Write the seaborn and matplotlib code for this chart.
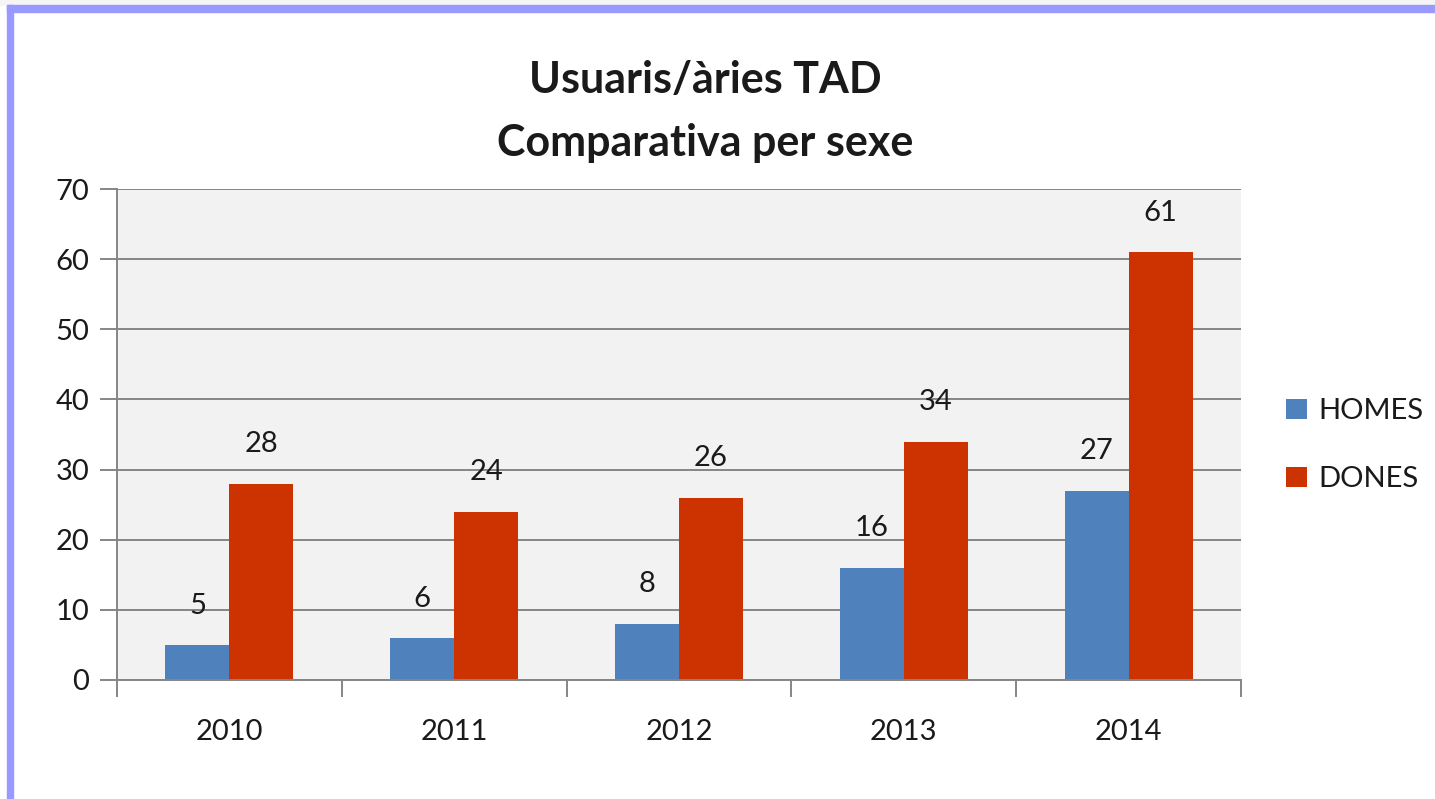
import numpy as np
import pandas as pd
import matplotlib
matplotlib.use("Agg")
import matplotlib.pyplot as plt
import seaborn as sns
from matplotlib.patches import Rectangle

# dades
anys = ["2010", "2011", "2012", "2013", "2014"]
homes = [5, 6, 8, 16, 27]
dones = [28, 24, 26, 34, 61]
series = ["HOMES", "DONES"]
colors = ["#4f81bd", "#cc3300"]

df = pd.DataFrame({
    "any": anys * 2,
    "valor": homes + dones,
    "sexe": ["HOMES"] * len(anys) + ["DONES"] * len(anys),
})

sns.set_theme(style="white")
plt.rcParams["font.family"] = ["Lato", "DejaVu Sans"]

fig = plt.figure(figsize=(14.35, 7.99), dpi=100)
W, H = 1435, 799
ax = fig.add_axes([117 / W, 1 - 680 / H, (1241 - 117) / W, (680 - 189) / H])
ax.set_facecolor("#f2f2f2")

sns.barplot(data=df, x="any", y="valor", hue="sexe", hue_order=series,
            palette=colors, width=0.57, saturation=1, ax=ax, errorbar=None,
            linewidth=0, edgecolor="none")

for cont in ax.containers:
    ax.bar_label(cont, padding=19, fontsize=21, color="#1a1a1a")

ax.set_ylim(0, 70)
ax.set_yticks(range(0, 71, 10))
ax.set_xlim(-0.5, len(anys) - 0.5)
ax.grid(axis="y", color="#868686", lw=1.4)
ax.set_axisbelow(True)
ax.set_xlabel("")
ax.set_ylabel("")
for s in ["top", "right"]:
    ax.spines[s].set_visible(False)
for s in ["left", "bottom"]:
    ax.spines[s].set_color("#868686")
    ax.spines[s].set_linewidth(1.4)

ax.tick_params(axis="y", length=12, width=1.4, color="#868686", labelsize=21,
               labelcolor="#1a1a1a", left=True, pad=8)
ax.tick_params(axis="x", which="major", length=0, labelsize=21,
               labelcolor="#1a1a1a", pad=28)
ax.set_xticks(np.arange(-0.5, len(anys), 1), minor=True)
ax.tick_params(axis="x", which="minor", length=12, width=1.4, color="#868686",
               bottom=True)

leg = ax.legend(loc="center left", bbox_to_anchor=(1.017, 0.478), frameon=False,
                fontsize=21, handlelength=0.7, handleheight=0.7,
                labelspacing=1.45, handletextpad=0.4)
for t in leg.get_texts():
    t.set_color("#1a1a1a")

fig.text(705 / W, 1 - 80 / H, "Usuaris/àries TAD", ha="center", va="center",
         fontsize=31, fontweight="bold", color="#1a1a1a")
fig.text(705 / W, 1 - 143 / H, "Comparativa per sexe", ha="center", va="center",
         fontsize=31, fontweight="bold", color="#1a1a1a")

# marc
fig.patches.append(Rectangle((0, 1 - 5 / H), 1, 5 / H, transform=fig.transFigure,
                             color="#f5f5f5", zorder=0))
fig.patches.append(Rectangle((7 / W, 1 - 12 / H), 1, 7 / H, transform=fig.transFigure,
                             color="#9999ff", zorder=1))
fig.patches.append(Rectangle((7 / W, 0), 6 / W, 1 - 5 / H, transform=fig.transFigure,
                             color="#9999ff", zorder=1))

fig.savefig("out.png", dpi=100)
